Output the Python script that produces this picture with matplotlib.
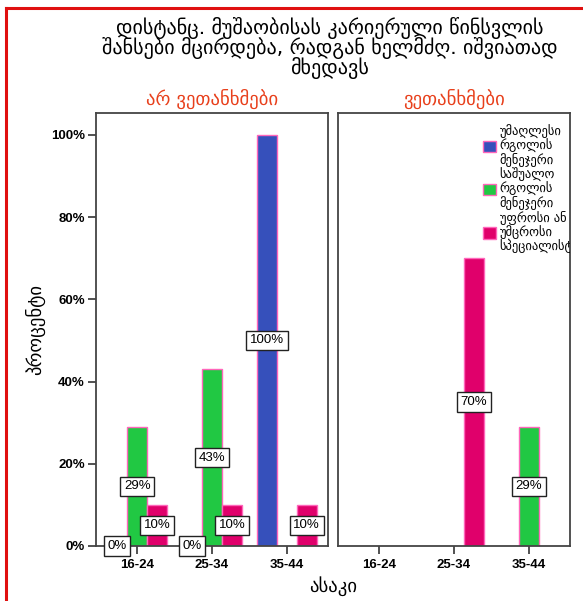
import numpy as np
import matplotlib
matplotlib.use("Agg")
import matplotlib.pyplot as plt
from matplotlib.lines import Line2D
from matplotlib.patches import Patch

# age groups and percentage of respondents per role, split by answer
ages = ["16-24", "25-34", "35-44"]
panels = ["არ ვეთანხმები", "ვეთანხმები"]
roles = ["უმაღლესი\nრგოლის\nმენეჯერი",
         "საშუალო\nრგოლის\nმენეჯერი",
         "უფროსი ან\nუმცროსი\nსპეციალისტი"]
top_mgr = [[0, 0, 100], [np.nan, np.nan, np.nan]]
mid_mgr = [[29, 43, np.nan], [np.nan, np.nan, 29]]
specialist = [[10, 10, 10], [np.nan, 70, np.nan]]

colors = ["#3650BB", "#21C843", "#E0006B"]
edge = "#FF66BB"
sans = ["Liberation Sans", "DejaVu Sans"]
geo = ["DejaVu Sans"]

fig = plt.figure(figsize=(5.83, 6.01), dpi=100)
fig.patch.set_facecolor("white")

# red frame on the top and left
fig.add_artist(Line2D([0.0103, 0.0103], [0, 0.9867], color="#E01010", lw=2.2))
fig.add_artist(Line2D([0.0103, 1.0], [0.9867, 0.9867], color="#E01010", lw=2.2))

fig.text(0.565, 0.972,
         "დისტანც. მუშაობისას კარიერული წინსვლის\n"
         "შანსები მცირდება, რადგან ხელმძღ. იშვიათად\nმხედავს",
         ha="center", va="top", fontsize=14.5, family=geo, linespacing=0.88)

lefts = [96 / 583, 338 / 583]
width = 232 / 583
bottom = 1 - 546 / 601
height = 433 / 601
x = np.arange(len(ages))
w = 0.267

for p in range(2):
    ax = fig.add_axes([lefts[p], bottom, width, height])
    series = [top_mgr[p], mid_mgr[p], specialist[p]]
    for s, vals in enumerate(series):
        vals = np.array(vals, dtype=float)
        xs = x + (s - 1) * w
        ok = ~np.isnan(vals)
        ax.bar(xs[ok], vals[ok], width=w, color=colors[s], edgecolor=edge,
               linewidth=1.0, zorder=2)
        for xi, v in zip(xs[ok], vals[ok]):
            ax.text(xi, v / 2, "%d%%" % v, ha="center", va="center",
                    fontsize=9.5, family=sans, zorder=4,
                    bbox=dict(boxstyle="square,pad=0.28", fc="white",
                              ec="#222222", lw=1.0))
    ax.set_xlim(-0.55, 2.55)
    ax.set_ylim(0, 105.3)
    ax.set_xticks(x)
    ax.set_xticklabels(ages, fontsize=9.5, fontweight="bold", family=sans)
    ax.tick_params(axis="x", length=6, width=1.2, color="#333333", pad=3)
    for sp in ax.spines.values():
        sp.set_color("#444444")
        sp.set_linewidth(1.3)
    if p == 0:
        ax.set_yticks([0, 20, 40, 60, 80, 100])
        ax.set_yticklabels(["0%", "20%", "40%", "60%", "80%", "100%"],
                           fontsize=9.5, fontweight="bold", family=sans)
        ax.tick_params(axis="y", length=6, width=1.2, color="#333333", pad=2)
        ax.set_ylabel("პროცენტი", fontsize=13.5, family=geo, labelpad=4)
    else:
        ax.set_yticks([])
        handles = [Patch(facecolor=c, edgecolor=edge, lw=1.0) for c in colors]
        leg = ax.legend(handles, roles, loc="upper left",
                        bbox_to_anchor=(0.605, 0.985), frameon=False,
                        prop={"family": geo, "size": 9}, handlelength=1.05,
                        handleheight=1.05, handletextpad=0.25,
                        labelspacing=0.05, borderaxespad=0)
        for t in leg.get_texts():
            t.set_linespacing(1.02)
            t.set_clip_box(ax.bbox)
            t.set_clip_on(True)
    ax.set_title(panels[p], color="#E8401C", fontsize=13.5, family=geo, pad=6)

fig.text(0.572, 0.008, "ასაკი", ha="center", va="bottom", fontsize=13.5,
         family=geo)

fig.savefig("out.png", dpi=100)
